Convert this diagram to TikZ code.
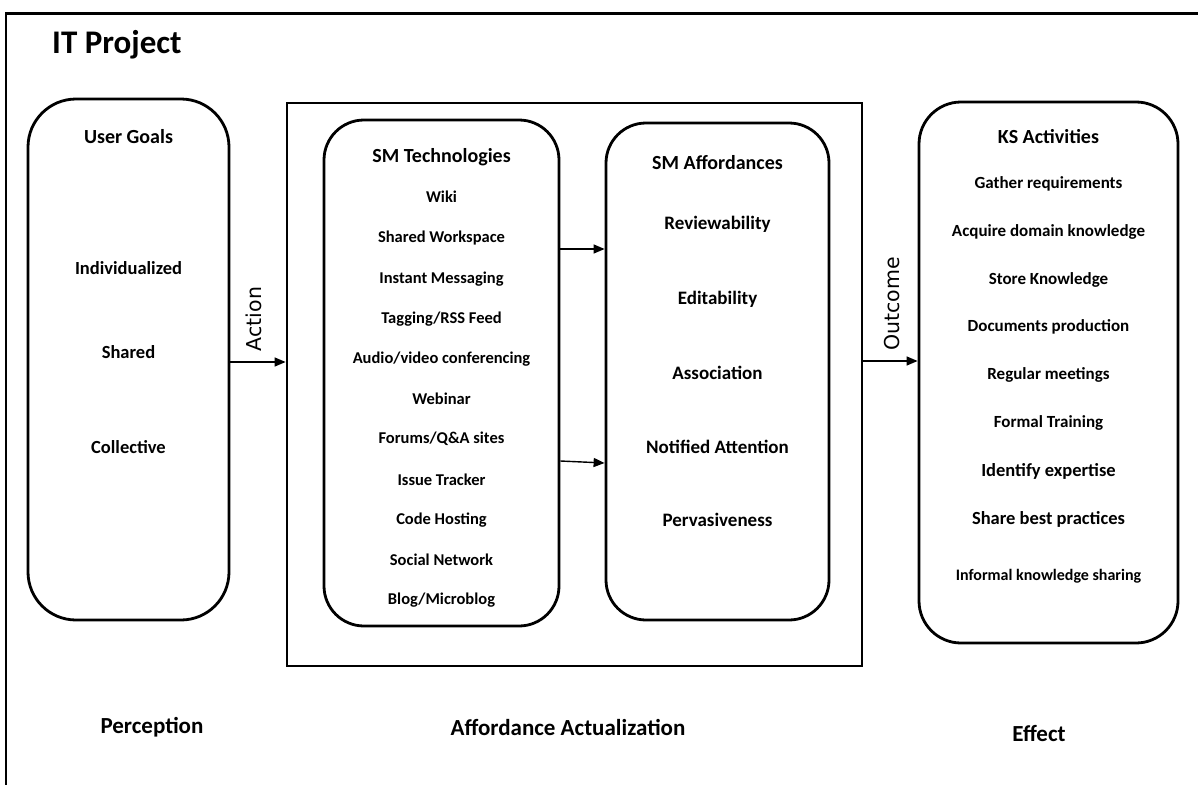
\documentclass[tikz,border=0pt]{standalone}
\usepackage{fontspec}
\setmainfont{Carlito}
\newfontfamily\lblfont{DejaVu Sans}
\usetikzlibrary{arrows.meta}
\begin{document}
\begin{tikzpicture}[x=1pt,y=-1pt,
  panel/.style={draw, line width=2.8pt, rounded corners=#1, inner sep=0pt},
  frame/.style={draw, line width=2.8pt, inner sep=0pt},
  head/.style={font=\bfseries\fontsize{20}{22}\selectfont, inner sep=0pt},
  goal/.style={font=\bfseries\fontsize{18.5}{20}\selectfont, inner sep=0pt},
  tech/.style={font=\bfseries\fontsize{16.5}{18}\selectfont, inner sep=0pt},
  aff/.style={font=\bfseries\fontsize{19}{21}\selectfont, inner sep=0pt},
  act/.style={font=\bfseries\fontsize{17}{19}\selectfont, inner sep=0pt},
  phase/.style={font=\bfseries\fontsize{23}{25}\selectfont, inner sep=0pt},
  flow/.style={line width=1.4pt, -{Triangle[length=11pt,width=9pt]}},
  rotlbl/.style={font=\lblfont\fontsize{20.5}{22}\selectfont, rotate=90, inner sep=0pt}]

\clip (0,0) rectangle (1198,784);
\fill[white] (0,0) rectangle (1198,784);

% outer project frame (runs past the right and bottom edges)
\draw[line width=2.8pt] (6,13.5) rectangle (1215,800);
\node[anchor=base west, font=\bfseries\fontsize{33}{36}\selectfont, inner sep=0pt] (title) at (52,53) {IT Project};

% containers
\node[panel=48, minimum width=201pt, minimum height=521pt] (ug) at (128.5,359.5) {};
\node[frame, minimum width=575pt, minimum height=563pt] (mid) at (574.5,384.5) {};
\node[panel=40, minimum width=235pt, minimum height=506pt] (tech) at (441.5,373) {};
\node[panel=40, minimum width=223pt, minimum height=497pt] (aff) at (717.5,371.5) {};
\node[panel=42, minimum width=259pt, minimum height=541pt] (ks) at (1048.5,372.5) {};

% user goals
\node[head] (ugh) at (128.5,137) {User Goals};
\node[goal] (g1) at (128.5,268) {Individualized};
\node[goal] (g2) at (128.5,352) {Shared};
\node[goal] (g3) at (128.5,447) {Collective};

% social media technologies
\node[head] (th) at (441.5,157) {SM Technologies};
\node[tech] (t1) at (441.5,197) {Wiki};
\node[tech] (t2) at (441.5,238) {Shared Workspace};
\node[tech] (t3) at (441.5,279) {Instant Messaging};
\node[tech] (t4) at (441.5,319) {Tagging/RSS Feed};
\node[tech] (t5) at (441.5,359) {Audio/video conferencing};
\node[tech] (t6) at (441.5,399) {Webinar};
\node[tech] (t7) at (441.5,439) {Forums/Q\&A sites};
\node[tech] (t8) at (441.5,480) {Issue Tracker};
\node[tech] (t9) at (441.5,520) {Code Hosting};
\node[tech] (t10) at (441.5,560) {Social Network};
\node[tech] (t11) at (441.5,600) {Blog/Microblog};

% social media affordances
\node[head] (ah) at (717.5,163) {SM Affordances};
\node[aff] (a1) at (717.5,224) {Reviewability};
\node[aff] (a2) at (717.5,299) {Editability};
\node[aff] (a3) at (717.5,373) {Association};
\node[aff] (a4) at (717.5,447) {Notified Attention};
\node[aff] (a5) at (717.5,520) {Pervasiveness};

% knowledge sharing activities
\node[head] (kh) at (1048.5,137) {KS Activities};
\node[act] (k1) at (1048.5,184) {Gather requirements};
\node[act] (k2) at (1048.5,232) {Acquire domain knowledge};
\node[act] (k3) at (1048.5,280) {Store Knowledge};
\node[act] (k4) at (1048.5,327) {Documents production};
\node[act] (k5) at (1048.5,375) {Regular meetings};
\node[act] (k6) at (1048.5,423) {Formal Training};
\node[act, font=\bfseries\fontsize{18.5}{20}\selectfont] (k7) at (1048.5,471) {Identify expertise};
\node[act, font=\bfseries\fontsize{18.5}{20}\selectfont] (k8) at (1048.5,519) {Share best practices};
\node[act, font=\bfseries\fontsize{16}{18}\selectfont] (k9) at (1048.5,576) {Informal knowledge sharing};

% phase labels
\node[phase] (p1) at (152,727) {Perception};
\node[phase] (p2) at (568,727) {Affordance Actualization};
\node[phase] (p3) at (1039,733) {Effect};

% connectors
\coordinate (yact) at (0,362);
\coordinate (yout) at (0,361);
\coordinate (yup) at (0,249);
\coordinate (ylo1) at (0,461);
\coordinate (ylo2) at (0,463);
\draw[flow] (ug.east |- yact) -- (mid.west |- yact);
\draw[flow] (tech.east |- yup) -- (aff.west |- yup);
\draw[flow] (tech.east |- ylo1) -- (aff.west |- ylo2);
\draw[flow] (mid.east |- yout) -- (ks.west |- yout);

\node[rotlbl] (lact) at (254,319) {Action};
\node[rotlbl] (lout) at (892,304) {Outcome};
\end{tikzpicture}
\end{document}
